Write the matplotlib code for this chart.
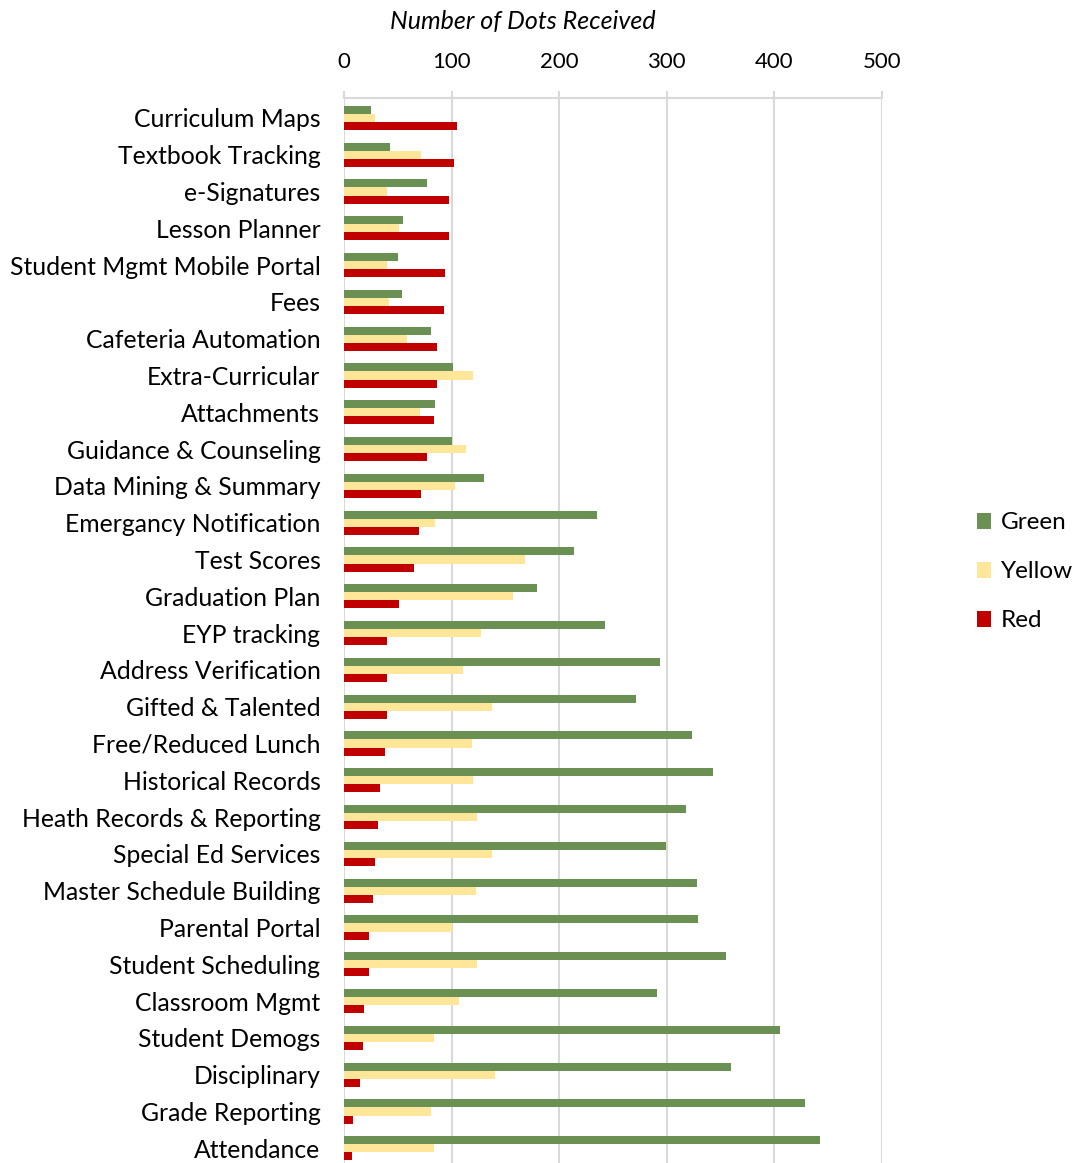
import numpy as np
import matplotlib.pyplot as plt

plt.rcParams['font.family'] = ['Lato', 'DejaVu Sans']

# data
categories = ["Curriculum Maps", "Textbook Tracking", "e-Signatures", "Lesson Planner",
              "Student Mgmt Mobile Portal", "Fees", "Cafeteria Automation", "Extra-Curricular",
              "Attachments", "Guidance & Counseling", "Data Mining & Summary",
              "Emergancy Notification", "Test Scores", "Graduation Plan", "EYP tracking",
              "Address Verification", "Gifted & Talented", "Free/Reduced Lunch",
              "Historical Records", "Heath Records & Reporting", "Special Ed Services",
              "Master Schedule Building", "Parental Portal", "Student Scheduling",
              "Classroom Mgmt", "Student Demogs", "Disciplinary", "Grade Reporting",
              "Attendance"]
green = [25, 43, 77, 55, 50, 54, 81, 101, 85, 100, 130, 235, 214, 179, 243, 294, 271, 323,
         343, 318, 299, 328, 329, 355, 291, 405, 360, 428, 442]
yellow = [29, 72, 40, 51, 40, 42, 59, 120, 71, 113, 103, 85, 168, 157, 127, 111, 138, 119,
          120, 124, 138, 123, 100, 124, 107, 84, 140, 81, 84]
red = [105, 102, 98, 98, 94, 93, 86, 86, 84, 77, 72, 70, 65, 51, 40, 40, 40, 38,
       33, 32, 29, 27, 23, 23, 19, 18, 15, 8, 7]

c_green = "#6A9153"
c_yellow = "#FFE699"
c_red = "#C00000"

fig = plt.figure(figsize=(10.79, 11.63), dpi=100)
ax = fig.add_axes([344/1079, 0.0, 538/1079, 1 - 98/1163])

y = np.arange(len(categories))
h = 0.22
ax.barh(y - h, green, height=h, color=c_green, label="Green", zorder=3)
ax.barh(y, yellow, height=h, color=c_yellow, label="Yellow", zorder=3)
ax.barh(y + h, red, height=h, color=c_red, label="Red", zorder=3)

ax.set_ylim(28.4, -0.54)
ax.set_xlim(0, 500)
ax.set_xticks(range(0, 501, 100))
ax.xaxis.tick_top()
ax.tick_params(axis='x', labelsize=16, length=5, color="#D9D9D9", width=1.5, pad=14)
ax.set_yticks(y)
ax.set_yticklabels(categories, fontsize=17.8)
ax.tick_params(axis='y', length=0, pad=17)
ax.grid(axis='x', color="#D9D9D9", linewidth=1.5, zorder=0)
for s in ["left", "right", "bottom"]:
    ax.spines[s].set_visible(False)
ax.spines["top"].set_color("#D9D9D9")
ax.spines["top"].set_linewidth(1.5)

fig.text(523/1079, 1 - 22/1163, "Number of Dots Received", ha="center", va="center",
         fontsize=18, style="italic")

leg = ax.legend(loc="center left", bbox_to_anchor=(1.135, 0.555), frameon=False,
                fontsize=17.5, handlelength=0.6, handleheight=0.6, labelspacing=1.15,
                handletextpad=0.4)

fig.savefig("out.png", dpi=100)
